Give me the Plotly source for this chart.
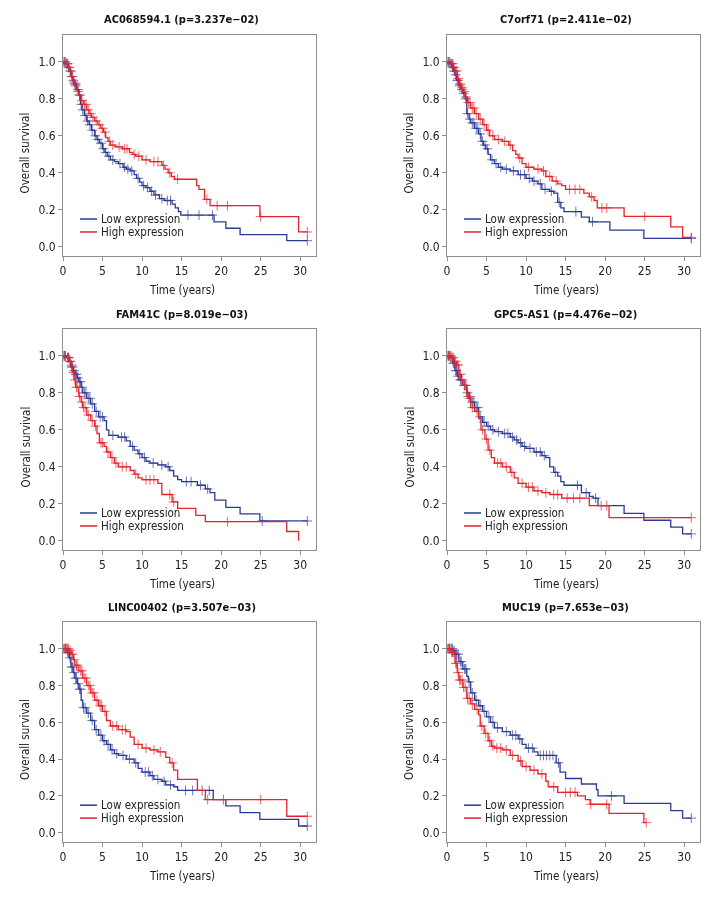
import numpy as np
import plotly.graph_objects as go

# Curvas de Kaplan-Meier: (tiempo en años, supervivencia tras el escalón)
AC_LOW = [(0.3, .99), (0.6, .97), (0.8, .95), (1.0, .92), (1.2, .90), (1.4, .88), (1.7, .85), (2.0, .82),
          (2.2, .77), (2.4, .74), (2.7, .71), (3.0, .68), (3.3, .66), (3.6, .63), (4.0, .60), (4.3, .58),
          (4.6, .56), (5.0, .53), (5.3, .51), (5.6, .49), (6.0, .47), (6.5, .46), (7.0, .45), (7.6, .43),
          (8.0, .42), (8.5, .41), (9.0, .39), (9.3, .37), (9.7, .35), (10.0, .33), (10.5, .32), (11.0, .30),
          (11.5, .28), (12.2, .26), (12.8, .25), (13.8, .23), (14.2, .21), (14.6, .19), (14.9, .171),
          (19.1, .135), (20.6, .10), (22.4, .066), (28.3, .033)]
AC_LOW_END = 30.9
AC_LOW_CENS = [0.2, 0.4, 0.5, 0.7, 0.9, 1.1, 1.3, 1.5, 1.6, 1.9, 2.1, 2.3, 2.5, 2.8, 3.1, 3.4, 3.7, 4.1, 4.4,
               4.8, 5.1, 5.4, 5.8, 6.3, 7.2, 7.8, 8.2, 8.7, 9.5, 10.2, 10.7, 11.2, 11.7, 12.5, 13.2, 13.6,
               15.8, 17.2, 18.9, 30.9]
AC_HIGH = [(0.4, .99), (0.7, .97), (0.9, .95), (1.1, .92), (1.3, .89), (1.5, .87), (1.8, .84), (2.0, .82),
           (2.3, .79), (2.6, .77), (3.0, .74), (3.3, .72), (3.6, .70), (4.0, .68), (4.4, .66), (4.8, .64),
           (5.1, .62), (5.4, .59), (5.7, .57), (6.0, .55), (6.6, .54), (7.5, .53), (8.4, .51), (8.8, .50),
           (9.2, .49), (10.0, .47), (11.0, .46), (12.5, .44), (12.9, .42), (13.3, .40), (13.7, .38),
           (14.1, .365), (16.9, .33), (17.2, .31), (17.9, .256), (18.6, .222), (24.9, .163), (29.8, .08)]
AC_HIGH_END = 30.9
AC_HIGH_CENS = [0.1, 0.3, 0.5, 0.6, 0.8, 1.0, 1.2, 1.4, 1.6, 1.9, 2.1, 2.4, 2.7, 2.9, 3.2, 3.5, 3.8, 4.2,
                4.6, 5.0, 5.3, 5.9, 6.3, 7.1, 7.8, 8.1, 9.0, 9.6, 10.5, 11.5, 12.0, 12.7, 13.5, 14.5,
                18.2, 19.5, 20.8, 25.0, 30.9]

C7_LOW = [(0.3, .99), (0.6, .97), (0.8, .95), (1.0, .93), (1.2, .90), (1.5, .87), (1.8, .85), (2.0, .83),
          (2.3, .80), (2.5, .72), (2.8, .69), (3.0, .67), (3.5, .64), (4.0, .61), (4.3, .57), (4.6, .55),
          (4.9, .53), (5.2, .50), (5.5, .47), (6.0, .45), (6.5, .43), (7.0, .42), (8.0, .41), (9.0, .39),
          (10.0, .37), (10.8, .355), (11.5, .34), (12.0, .31), (13.0, .30), (13.5, .29), (14.0, .24),
          (14.4, .21), (14.8, .19), (17.0, .16), (18.0, .135), (20.6, .09), (24.9, .045)]
C7_LOW_END = 30.9
C7_LOW_CENS = [0.2, 0.4, 0.5, 0.7, 0.9, 1.1, 1.3, 1.4, 1.6, 1.9, 2.1, 2.4, 2.6, 2.9, 3.2, 3.4, 3.7, 3.9,
               4.2, 4.5, 4.8, 5.1, 5.7, 6.2, 6.8, 7.5, 8.4, 9.3, 9.8, 10.4, 11.0, 11.8, 12.4, 13.2, 14.2,
               16.3, 18.4, 30.9]
C7_HIGH = [(0.5, .99), (0.8, .97), (1.0, .95), (1.3, .91), (1.5, .88), (1.8, .86), (2.0, .84), (2.3, .81),
           (2.6, .78), (3.0, .75), (3.5, .72), (4.0, .69), (4.5, .66), (5.0, .63), (5.4, .60), (6.0, .58),
           (7.0, .57), (7.8, .55), (8.3, .52), (8.7, .50), (9.0, .48), (9.5, .45), (10.0, .43), (11.0, .42),
           (12.0, .41), (12.5, .38), (13.3, .355), (14.0, .34), (14.5, .33), (15.0, .31), (17.3, .29),
           (18.0, .27), (18.6, .25), (19.0, .21), (22.4, .164), (28.3, .107), (29.8, .05)]
C7_HIGH_END = 30.9
C7_HIGH_CENS = [0.1, 0.3, 0.6, 0.7, 0.9, 1.1, 1.2, 1.4, 1.6, 1.7, 1.9, 2.2, 2.4, 2.7, 2.9, 3.2, 3.4, 3.7,
                4.2, 4.7, 5.2, 5.8, 6.5, 7.3, 8.0, 9.2, 10.3, 11.5, 12.2, 13.0, 13.8, 15.5, 16.2, 16.8,
                18.3, 19.6, 20.2, 25.0, 30.9]

FAM_LOW = [(0.5, .99), (0.8, .97), (1.0, .94), (1.3, .92), (1.5, .90), (1.8, .88), (2.0, .86), (2.3, .83),
           (2.5, .80), (3.0, .77), (3.5, .74), (4.0, .70), (4.5, .67), (5.2, .65), (5.5, .60), (5.8, .57),
           (7.0, .56), (8.0, .54), (8.5, .51), (9.0, .49), (9.5, .47), (10.0, .45), (10.5, .43), (11.0, .42),
           (12.0, .41), (13.0, .40), (13.5, .38), (14.0, .35), (14.5, .33), (15.0, .32), (17.0, .30),
           (18.0, .28), (18.6, .26), (19.2, .22), (20.6, .18), (22.4, .145), (24.9, .107)]
FAM_LOW_END = 30.9
FAM_LOW_CENS = [0.2, 0.3, 0.6, 0.7, 0.9, 1.1, 1.2, 1.4, 1.6, 1.7, 1.9, 2.1, 2.2, 2.4, 2.7, 2.9, 3.2, 3.4,
                3.7, 4.2, 4.7, 5.0, 6.3, 7.4, 7.8, 8.8, 9.7, 10.3, 11.4, 12.5, 13.3, 15.6, 16.2, 17.4,
                18.3, 25.2, 30.9]
FAM_HIGH = [(0.5, .99), (0.8, .97), (1.0, .95), (1.2, .91), (1.4, .87), (1.6, .83), (2.0, .78), (2.3, .75),
            (2.5, .72), (3.0, .68), (3.5, .65), (4.0, .62), (4.3, .58), (4.6, .53), (5.2, .51), (5.5, .48),
            (6.0, .45), (6.5, .42), (7.0, .40), (8.5, .38), (9.0, .36), (9.5, .34), (10.0, .33), (12.0, .31),
            (12.5, .25), (13.8, .21), (14.5, .175), (16.8, .137), (18.0, .103), (28.3, .05), (29.8, 0.0)]
FAM_HIGH_END = 29.8
FAM_HIGH_CENS = [0.1, 0.3, 0.6, 0.7, 0.9, 1.1, 1.3, 1.5, 1.7, 1.8, 2.1, 2.4, 2.6, 2.8, 3.2, 3.7, 4.1,
                 4.8, 5.0, 5.7, 6.2, 6.7, 7.5, 8.0, 9.2, 10.5, 11.0, 11.5, 13.5, 14.0, 20.8]

GPC_LOW = [(0.4, .99), (0.7, .96), (1.0, .92), (1.3, .89), (1.5, .87), (2.0, .84), (2.5, .80), (2.8, .77),
           (3.0, .75), (3.5, .72), (4.0, .67), (4.5, .64), (5.0, .62), (5.5, .60), (6.0, .59), (7.0, .58),
           (8.0, .56), (8.5, .545), (9.0, .53), (9.5, .51), (10.0, .50), (11.0, .48), (12.0, .46),
           (12.5, .45), (13.0, .40), (13.5, .37), (14.0, .35), (14.4, .32), (14.8, .30), (17.0, .26),
           (18.0, .24), (18.5, .23), (19.1, .19), (22.4, .148), (24.9, .111), (28.3, .074), (29.8, .037)]
GPC_LOW_END = 30.9
GPC_LOW_CENS = [0.2, 0.3, 0.5, 0.8, 0.9, 1.1, 1.2, 1.4, 1.7, 1.8, 2.2, 2.3, 2.6, 2.9, 3.2, 3.4, 3.7, 3.9,
                4.2, 4.7, 5.2, 5.8, 6.5, 7.3, 7.7, 8.3, 8.8, 9.3, 9.8, 10.5, 11.3, 11.8, 12.3, 13.7,
                16.5, 17.6, 18.8, 30.9]
GPC_HIGH = [(0.6, .99), (0.9, .97), (1.2, .95), (1.5, .90), (1.8, .87), (2.0, .84), (2.5, .78), (3.0, .72),
            (3.5, .70), (4.0, .66), (4.3, .60), (4.8, .55), (5.2, .49), (5.6, .45), (6.0, .42), (7.0, .40),
            (8.0, .37), (8.5, .34), (9.0, .31), (10.0, .29), (11.0, .27), (12.0, .26), (13.0, .25),
            (14.5, .23), (18.0, .19), (20.5, .125)]
GPC_HIGH_END = 30.9
GPC_HIGH_CENS = [0.1, 0.2, 0.4, 0.5, 0.7, 0.8, 1.0, 1.1, 1.3, 1.4, 1.6, 1.7, 1.9, 2.2, 2.4, 2.7, 2.9,
                 3.2, 3.8, 4.5, 5.0, 5.4, 6.4, 6.8, 7.5, 8.2, 9.5, 10.3, 10.8, 11.5, 12.5, 13.5, 14.0,
                 15.2, 16.0, 16.8, 19.5, 20.2, 30.9]

LINC_LOW = [(0.5, .98), (0.8, .95), (1.0, .90), (1.3, .87), (1.5, .84), (1.8, .81), (2.0, .78), (2.3, .72),
            (2.5, .68), (3.0, .65), (3.5, .61), (4.0, .56), (4.5, .53), (5.0, .50), (5.5, .48), (6.0, .45),
            (6.5, .43), (7.0, .42), (8.0, .40), (9.0, .38), (9.5, .35), (10.0, .33), (11.0, .31), (11.5, .29),
            (12.5, .28), (13.0, .26), (14.0, .25), (14.5, .23), (19.0, .18), (20.6, .146), (22.4, .11),
            (24.9, .073), (29.8, .037)]
LINC_LOW_END = 30.9
LINC_LOW_CENS = [0.1, 0.3, 0.4, 0.6, 0.7, 0.9, 1.1, 1.2, 1.4, 1.6, 1.7, 1.9, 2.1, 2.2, 2.6, 2.8, 3.2,
                 3.7, 4.2, 4.8, 5.2, 5.7, 6.2, 6.8, 7.6, 8.4, 9.2, 10.4, 10.8, 11.3, 12.0, 12.8, 13.6,
                 15.5, 16.4, 17.6, 18.5, 30.9]
LINC_HIGH = [(0.8, .99), (1.0, .97), (1.3, .94), (1.5, .91), (2.0, .88), (2.5, .84), (3.0, .80), (3.5, .76),
             (4.0, .72), (4.5, .69), (5.0, .66), (5.5, .61), (6.0, .58), (7.0, .56), (8.0, .55), (8.5, .52),
             (9.0, .48), (10.0, .46), (11.0, .45), (12.0, .44), (13.0, .41), (13.5, .38), (14.0, .34),
             (14.5, .29), (17.0, .23), (18.0, .18), (28.3, .09)]
LINC_HIGH_END = 30.9
LINC_HIGH_CENS = [0.2, 0.3, 0.5, 0.6, 0.7, 0.9, 1.1, 1.2, 1.4, 1.7, 1.8, 2.2, 2.4, 2.7, 2.9, 3.2, 3.4,
                  3.7, 3.9, 4.3, 4.7, 4.9, 5.3, 6.3, 6.8, 7.5, 7.9, 9.5, 10.5, 11.5, 12.3, 13.8, 18.3,
                  20.3, 25.0, 30.9]

MUC_LOW = [(0.8, .99), (1.0, .97), (1.5, .93), (2.0, .89), (2.5, .85), (2.7, .82), (3.0, .76), (3.5, .72),
           (4.0, .69), (4.5, .66), (5.0, .63), (5.5, .60), (6.0, .57), (7.0, .55), (8.0, .53), (9.0, .51),
           (9.5, .48), (10.0, .46), (11.0, .44), (11.5, .42), (13.8, .38), (14.3, .33), (15.0, .295),
           (17.0, .265), (18.9, .235), (19.1, .20), (22.4, .16), (28.3, .12), (29.8, .08)]
MUC_LOW_END = 30.9
MUC_LOW_CENS = [0.1, 0.3, 0.4, 0.6, 0.7, 0.9, 1.1, 1.2, 1.4, 1.7, 1.8, 2.2, 2.3, 2.4, 2.8, 3.2, 3.7,
                4.2, 4.7, 5.3, 5.8, 6.4, 7.5, 8.3, 8.7, 9.2, 10.3, 10.8, 11.8, 12.2, 12.6, 13.0, 13.4,
                14.1, 20.8, 30.9]
MUC_HIGH = [(0.5, .98), (1.0, .92), (1.3, .87), (1.5, .83), (2.0, .79), (2.5, .73), (3.0, .70), (3.5, .67),
            (4.0, .64), (4.2, .58), (4.7, .54), (5.2, .50), (5.6, .47), (6.0, .46), (7.0, .45), (8.0, .42),
            (9.0, .39), (9.5, .36), (10.5, .34), (11.5, .32), (12.5, .28), (12.8, .25), (14.0, .22),
            (16.5, .20), (17.5, .18), (18.1, .155), (20.5, .105), (24.9, .055)]
MUC_HIGH_END = 25.2
MUC_HIGH_CENS = [0.2, 0.3, 0.6, 0.7, 0.8, 1.1, 1.2, 1.4, 1.6, 1.7, 1.9, 2.1, 2.3, 2.6, 2.8, 3.2, 3.8,
                 4.4, 4.9, 5.4, 5.8, 6.3, 6.8, 7.5, 8.3, 9.3, 10.0, 11.0, 12.0, 13.5, 15.0, 15.6, 16.2,
                 18.2, 20.2, 25.2]

GENES = ["AC068594.1", "C7orf71", "FAM41C", "GPC5-AS1", "LINC00402", "MUC19"]
P_VALUES = ["3.237e−02", "2.411e−02", "8.019e−03", "4.476e−02", "3.507e−03", "7.653e−03"]
X_TICKS = [0, 5, 10, 15, 20, 25, 30]
Y_TICKS = [0.0, 0.2, 0.4, 0.6, 0.8, 1.0]

PANELS = [
    (AC_LOW, AC_LOW_END, AC_LOW_CENS, AC_HIGH, AC_HIGH_END, AC_HIGH_CENS),
    (C7_LOW, C7_LOW_END, C7_LOW_CENS, C7_HIGH, C7_HIGH_END, C7_HIGH_CENS),
    (FAM_LOW, FAM_LOW_END, FAM_LOW_CENS, FAM_HIGH, FAM_HIGH_END, FAM_HIGH_CENS),
    (GPC_LOW, GPC_LOW_END, GPC_LOW_CENS, GPC_HIGH, GPC_HIGH_END, GPC_HIGH_CENS),
    (LINC_LOW, LINC_LOW_END, LINC_LOW_CENS, LINC_HIGH, LINC_HIGH_END, LINC_HIGH_CENS),
    (MUC_LOW, MUC_LOW_END, MUC_LOW_CENS, MUC_HIGH, MUC_HIGH_END, MUC_HIGH_CENS),
]

BLUE = "#2b3a96"
RED = "#e3242b"
GRAY = "#8f8f8f"
FONT = "DejaVu Sans Condensed, Liberation Sans Narrow, sans-serif"
# la página tiene 8 px de margen; la figura ocupa el resto de la ventana
OFF = 8
W, H = 704, 884

# posiciones de los paneles en píxeles de la ventana: (izquierda, derecha) y (arriba, abajo)
COLS = [(63, 316), (447, 700)]
ROWS = [(35, 256), (329, 550), (622, 842)]


def px(xp):
    return (xp - OFF) / W


def py(yp):
    return 1 - (yp - OFF) / H


def km_line(steps, end):
    t, s = zip(*steps)
    return [0.0] + list(t) + [end], [1.0] + list(s) + [s[-1]]


def km_at(steps, times):
    t, s = zip(*steps)
    t = np.array(t)
    s = np.array(s)
    idx = np.searchsorted(t, np.array(times), side="right")
    return np.where(idx == 0, 1.0, s[np.maximum(idx - 1, 0)])


fig = go.Figure()
annotations = []
shapes = []

for i, (low, low_end, low_c, high, high_end, high_c) in enumerate(PANELS):
    n = i + 1
    r, c = divmod(i, 2)
    xax = "x" if n == 1 else f"x{n}"
    yax = "y" if n == 1 else f"y{n}"

    for steps, end, cens, col in [(low, low_end, low_c, BLUE), (high, high_end, high_c, RED)]:
        lx, ly = km_line(steps, end)
        fig.add_trace(go.Scatter(
            x=lx, y=ly, mode="lines", line=dict(color=col, width=1.3, shape="hv"),
            xaxis=xax, yaxis=yax, showlegend=False, hoverinfo="skip"
        ))
        fig.add_trace(go.Scatter(
            x=cens, y=km_at(steps, cens), mode="markers",
            marker=dict(symbol="cross-thin", size=7, line=dict(color=col, width=1)),
            opacity=0.7, xaxis=xax, yaxis=yax, showlegend=False, hoverinfo="skip"
        ))

    x0, x1 = COLS[c]
    y0, y1 = ROWS[r]
    axis_common = dict(
        showline=True, linecolor=GRAY, linewidth=1, mirror=True, ticks="outside",
        ticklen=4, tickcolor=GRAY, showgrid=False, zeroline=False, automargin=False,
        tickfont=dict(family=FONT, size=12, color="#222")
    )
    fig.layout[f"xaxis{n}"] = dict(
        domain=[px(x0), px(x1)], range=[0, 32], tickvals=X_TICKS, anchor=yax, **axis_common
    )
    fig.layout[f"yaxis{n}"] = dict(
        domain=[py(y1), py(y0)], range=[-0.05, 1.145], tickvals=Y_TICKS,
        tickformat=".1f", anchor=xax, **axis_common
    )

    cx = (x0 + x1) / 2 - 8
    annotations.append(dict(
        text=f"<b>{GENES[i]} (p={P_VALUES[i]})</b>", xref="paper", yref="paper",
        x=px(cx), y=py(y0 - 15), showarrow=False, xanchor="center", yanchor="middle",
        font=dict(family=FONT, size=11, color="#111")
    ))
    annotations.append(dict(
        text="Time (years)", xref="paper", yref="paper",
        x=px(cx), y=py(y1 + 34), showarrow=False, xanchor="center", yanchor="middle",
        font=dict(family=FONT, size=11.5, color="#222")
    ))
    annotations.append(dict(
        text="Overall survival", xref="paper", yref="paper", textangle=-90,
        x=px(x0 - 38), y=py((y0 + y1) / 2 + 8), showarrow=False,
        xanchor="center", yanchor="middle", font=dict(family=FONT, size=11.5, color="#222")
    ))

    # leyenda dibujada a mano dentro del panel
    for yy, label, col in [(0.15, "Low expression", BLUE), (0.08, "High expression", RED)]:
        shapes.append(dict(type="line", xref=xax, yref=yax, x0=2.15, x1=4.3, y0=yy, y1=yy,
                           line=dict(color=col, width=1.5)))
        annotations.append(dict(
            text=label, xref=xax, yref=yax, x=4.6, y=yy, showarrow=False,
            xanchor="left", yanchor="middle", font=dict(family=FONT, size=11.5, color="#222")
        ))

fig.update_layout(
    width=W, height=H, margin=dict(l=0, r=0, t=0, b=0),
    paper_bgcolor="white", plot_bgcolor="white",
    annotations=annotations, shapes=shapes, showlegend=False
)

fig.write_html("out.html")
